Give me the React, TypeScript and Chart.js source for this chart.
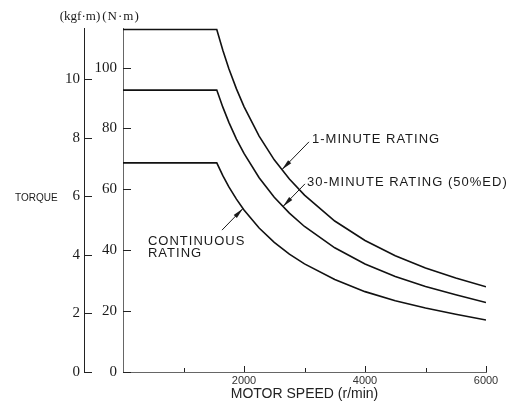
import React, { useEffect, useRef } from 'react';
import { Chart, registerables } from 'chart.js';

Chart.register(...registerables);

// ---- data ----
const speeds = [0, 1550, 1650, 1750, 1875, 2000, 2250, 2500, 2750, 3000, 3500, 4000, 4500, 5000, 5500, 6000];
const oneMinuteRating = [112.5, 112.5, 105.7, 99.6, 93.0, 87.2, 77.5, 69.7, 63.4, 58.1, 49.6, 43.2, 38.2, 34.2, 30.9, 28.0];
const thirtyMinuteRating = [92.6, 92.6, 87.0, 82.0, 76.5, 71.8, 63.8, 57.4, 52.2, 47.8, 40.8, 35.5, 31.4, 28.1, 25.4, 22.8];
const continuousRating = [68.7, 68.7, 64.5, 60.8, 56.8, 53.2, 47.3, 42.6, 38.7, 35.5, 30.4, 26.4, 23.4, 21.0, 19.0, 17.1];

const speedTicks = [1000, 2000, 3000, 4000, 5000, 6000];
const speedLabels = [2000, 4000, 6000];
const nmTicks = [0, 20, 40, 60, 80, 100];
const kgfTicks = [0, 2, 4, 6, 8, 10];

const seriesNames = ['1-MINUTE RATING', '30-MINUTE RATING (50%ED)', 'CONTINUOUS RATING'];

// callouts: anchor points in data units (speed, N·m)
const callouts = [
  { lines: ['1-MINUTE RATING'], text: [3124, 76.5], tail: [3074, 75.6], tip: [2628, 66.5] },
  { lines: ['30-MINUTE RATING (50%ED)'], text: [3041, 62.4], tail: [3008, 61.8], tip: [2645, 54.4] },
  { lines: ['CONTINUOUS', 'RATING'], text: [413, 43.0], tail: [1636, 46.6], tip: [1983, 53.7] },
];

const SANS = '"Liberation Sans", Arial, sans-serif';
const SERIF = '"Liberation Serif", "Times New Roman", serif';

const overlay = {
  id: 'overlay',
  afterDraw(chart: any) {
    const { ctx, chartArea, scales } = chart;
    const x = scales.x;
    const y = scales.y;
    const y2 = scales.y2;
    const seg = (x1: number, y1: number, x2: number, y2_: number) => {
      ctx.beginPath();
      ctx.moveTo(x1, y1);
      ctx.lineTo(x2, y2_);
      ctx.stroke();
    };
    ctx.save();
    ctx.lineWidth = 1;
    ctx.strokeStyle = '#222';
    // inward tick marks
    nmTicks.forEach((v) => {
      const py = Math.round(y.getPixelForValue(v)) + 0.5;
      seg(y.right, py, y.right + 8, py);
    });
    kgfTicks.forEach((v) => {
      const py = Math.round(y2.getPixelForValue(v)) + 0.5;
      seg(y2.right, py, y2.right + 8, py);
    });
    speedTicks.forEach((v) => {
      const px = Math.round(x.getPixelForValue(v)) + 0.5;
      const len = speedLabels.includes(v) ? 6 : 4;
      seg(px, chartArea.bottom, px, chartArea.bottom - len);
    });

    ctx.fillStyle = '#1a1a1a';
    ctx.textBaseline = 'middle';
    // unit labels
    ctx.font = `13px ${SERIF}`;
    ctx.textAlign = 'center';
    (ctx as any).letterSpacing = '0px';
    ctx.fillText('(kgf·m)', y2.right - 4, chartArea.top - 11);
    (ctx as any).letterSpacing = '1px';
    ctx.fillText('(N·m)', y.right - 2, chartArea.top - 11);
    // axis title
    ctx.textAlign = 'left';
    ctx.font = `10px ${SANS}`;
    (ctx as any).letterSpacing = '0px';
    ctx.fillText('TORQUE', 15, y.getPixelForValue(57.1));

    // callouts
    ctx.font = `13px ${SANS}`;
    (ctx as any).letterSpacing = '1px';
    callouts.forEach((c) => {
      const tx = x.getPixelForValue(c.text[0]);
      const ty = y.getPixelForValue(c.text[1]);
      c.lines.forEach((t, i) => ctx.fillText(t, tx, ty + i * 12));
      const ax = x.getPixelForValue(c.tail[0]);
      const ay = y.getPixelForValue(c.tail[1]);
      const bx = x.getPixelForValue(c.tip[0]);
      const by = y.getPixelForValue(c.tip[1]);
      ctx.strokeStyle = '#1a1a1a';
      seg(ax, ay, bx, by);
      const ang = Math.atan2(by - ay, bx - ax);
      const L = 11;
      const W = 2.2;
      const cx = bx - L * Math.cos(ang);
      const cy = by - L * Math.sin(ang);
      ctx.beginPath();
      ctx.moveTo(bx, by);
      ctx.lineTo(cx + W * Math.sin(ang), cy - W * Math.cos(ang));
      ctx.lineTo(cx - W * Math.sin(ang), cy + W * Math.cos(ang));
      ctx.closePath();
      ctx.fill();
    });
    ctx.restore();
  },
};

export default function App() {
  const ref = useRef<HTMLCanvasElement | null>(null);
  useEffect(() => {
    if (!ref.current) return;
    const mk = (vals: number[]) => speeds.map((s, i) => ({ x: s, y: vals[i] }));
    const lineStyle = {
      borderColor: '#111',
      borderWidth: 1.6,
      pointRadius: 0,
      tension: 0,
      fill: false,
      borderJoinStyle: 'miter' as const,
      yAxisID: 'y',
    };
    const chart = new Chart(ref.current, {
      type: 'line',
      data: {
        datasets: [
          { label: seriesNames[0], data: mk(oneMinuteRating), ...lineStyle },
          { label: seriesNames[1], data: mk(thirtyMinuteRating), ...lineStyle },
          { label: seriesNames[2], data: mk(continuousRating), ...lineStyle },
        ],
      },
      options: {
        animation: false,
        responsive: true,
        maintainAspectRatio: false,
        layout: { padding: { top: 28, right: 43, left: 0, bottom: 0 } },
        plugins: { legend: { display: false }, tooltip: { enabled: false } },
        scales: {
          x: {
            type: 'linear',
            min: 0,
            max: 6000,
            afterBuildTicks: (s: any) => {
              s.ticks = [0, ...speedTicks].map((v) => ({ value: v }));
            },
            afterFit: (s: any) => {
              s.height = 36;
            },
            ticks: {
              callback: (v: any) => (speedLabels.includes(Number(v)) ? String(v) : ''),
              font: { family: SANS, size: 11 },
              color: '#333',
              padding: 2,
              maxRotation: 0,
              autoSkip: false,
            },
            grid: { display: true, drawOnChartArea: false, drawTicks: false },
            border: { display: true, color: '#666', width: 1 },
            title: {
              display: true,
              text: 'MOTOR SPEED (r/min)',
              font: { family: SANS, size: 14 },
              color: '#222',
              padding: { top: 0, bottom: 5 },
            },
          },
          y: {
            type: 'linear',
            position: 'left',
            weight: 0,
            min: 0,
            max: 113,
            afterBuildTicks: (s: any) => {
              s.ticks = nmTicks.map((v) => ({ value: v }));
            },
            afterFit: (s: any) => {
              s.width = 39;
            },
            ticks: { font: { family: SERIF, size: 15 }, color: '#1a1a1a', padding: 6 },
            grid: { display: true, drawOnChartArea: false, drawTicks: false },
            border: { display: true, color: '#666', width: 1 },
          },
          y2: {
            type: 'linear',
            position: 'left',
            weight: 1,
            min: 0,
            max: 11.74,
            afterBuildTicks: (s: any) => {
              s.ticks = kgfTicks.map((v) => ({ value: v }));
            },
            afterFit: (s: any) => {
              s.width = 84;
            },
            ticks: { font: { family: SERIF, size: 15 }, color: '#1a1a1a', padding: 4 },
            grid: { display: true, drawOnChartArea: false, drawTicks: false },
            border: { display: true, color: '#222', width: 1 },
          },
        },
      },
      plugins: [overlay],
    } as any);
    return () => chart.destroy();
  }, []);
  return (
    <div style={{ position: 'absolute', left: 0, top: 0, width: 529, height: 408, background: '#fff' }}>
      <canvas ref={ref} />
    </div>
  );
}
